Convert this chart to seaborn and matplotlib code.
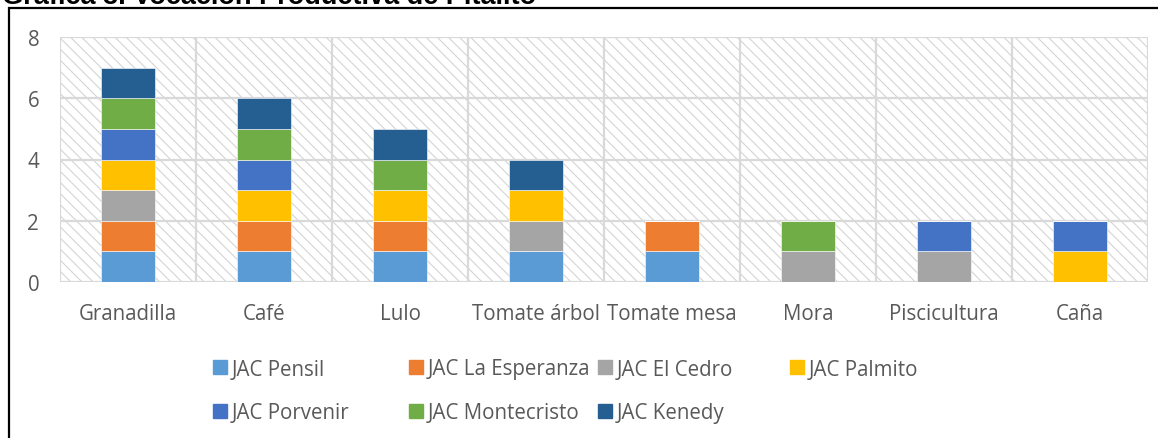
import matplotlib
matplotlib.use("Agg")
import matplotlib.pyplot as plt
import seaborn as sns
import numpy as np
from matplotlib.patches import Rectangle
from matplotlib.lines import Line2D

# ---- data ----
categories = ["Granadilla", "Café", "Lulo", "Tomate árbol", "Tomate mesa", "Mora", "Piscicultura", "Caña"]
series_names = ["JAC Pensil", "JAC La Esperanza", "JAC El Cedro", "JAC Palmito",
                "JAC Porvenir", "JAC Montecristo", "JAC Kenedy"]
jac_pensil      = [1, 1, 1, 1, 1, 0, 0, 0]
jac_esperanza   = [1, 1, 1, 0, 1, 0, 0, 0]
jac_cedro       = [1, 0, 0, 1, 0, 1, 1, 0]
jac_palmito     = [1, 1, 1, 1, 0, 0, 0, 1]
jac_porvenir    = [1, 1, 0, 0, 0, 0, 1, 1]
jac_montecristo = [1, 1, 1, 0, 0, 1, 0, 0]
jac_kenedy      = [1, 1, 1, 1, 0, 0, 0, 0]
series_values = [jac_pensil, jac_esperanza, jac_cedro, jac_palmito,
                 jac_porvenir, jac_montecristo, jac_kenedy]
colors = ["#5B9BD5", "#ED7D31", "#A5A5A5", "#FFC000", "#4472C4", "#70AD47", "#255E91"]
title = "Gráfica 3. Vocación Productiva de Pitalito"
yticks = [0, 2, 4, 6, 8]

sns.set_theme(style="white")
plt.rcParams["font.family"] = ["Open Sans", "DejaVu Sans"]
plt.rcParams["hatch.linewidth"] = 0.8

W, H = 1158, 439
fig = plt.figure(figsize=(W / 100, H / 100), dpi=100)
fig.patch.set_facecolor("white")

L, R, T, B = 60, 1148, 38, 283
ax = fig.add_axes([L / W, 1 - B / H, (R - L) / W, (B - T) / H])

grid_c = "#D9D9D9"
text_c = "#595959"
fs = 14.8

# hatched background
ax.add_patch(Rectangle((0, 0), 1, 1, transform=ax.transAxes, facecolor="white",
                       edgecolor="#D4D4D4", hatch="\\\\\\", linewidth=0, zorder=0))

bottom = np.zeros(len(categories))
for name, vals, c in zip(series_names, series_values, colors):
    sns.barplot(x=categories, y=vals, bottom=bottom, color=c, width=0.4,
                ax=ax, label=name, edgecolor="white", linewidth=0.4, zorder=3,
                saturation=1, legend=False)
    bottom = bottom + np.array(vals)

ax.set_xlim(-0.5, len(categories) - 0.5)
ax.set_ylim(0, 8)
ax.set_yticks(yticks)
ax.set_yticklabels([str(v) for v in yticks])
for y in yticks:
    ax.axhline(y, color=grid_c, lw=1.6, zorder=1)
for xb in np.arange(-0.5, len(categories), 1.0):
    ax.axvline(xb, color=grid_c, lw=1.6, zorder=1)
for s in ax.spines.values():
    s.set_visible(False)
ax.tick_params(axis="both", length=0, labelsize=fs, colors=text_c)
ax.tick_params(axis="y", pad=15)
ax.tick_params(axis="x", pad=15)
ax.set_xlabel("")
ax.set_ylabel("")

# legend: entries placed on a grid like the reference
col_x = [213, 409, 598, 790]
row_y = [370, 414]
positions = [(0, 0), (1, 0), (2, 0), (3, 0), (0, 1), (1, 1), (2, 1)]
for i, (ci, ri) in enumerate(positions):
    h = Line2D([], [], marker="s", linestyle="none", markersize=9.5,
               markerfacecolor=colors[i], markeredgecolor=colors[i])
    lg = fig.legend([h], [series_names[i]], loc="center left",
                    bbox_to_anchor=(col_x[ci] / W, 1 - row_y[ri] / H), frameon=False,
                    fontsize=fs, handlelength=0.7, handletextpad=0.2,
                    borderpad=0, borderaxespad=0)
    for t in lg.get_texts():
        t.set_color(text_c)

# outer frame (extends past the right and bottom edges)
fig.patches.append(Rectangle((8.5 / W, -0.2), 1.2, 1 - 8.5 / H + 0.2,
                             transform=fig.transFigure, fill=False,
                             edgecolor="black", linewidth=1.6, zorder=10))

# title (cut at the top edge, as in the reference)
fig.text(2 / W, 1 - 4.5 / H, title, fontsize=19.5, fontweight="bold",
         family=["Liberation Sans", "DejaVu Sans"], color="black", va="baseline", ha="left")

fig.savefig("out.png", dpi=100, facecolor="white")
